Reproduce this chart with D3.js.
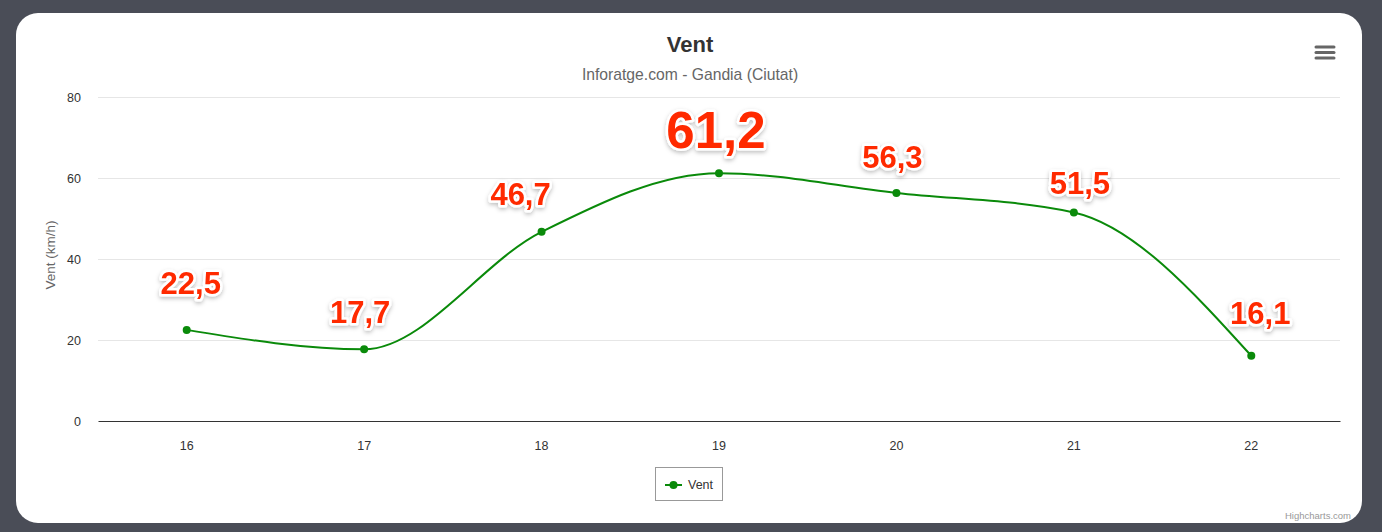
<!DOCTYPE html>
<html>
<head>
<meta charset="utf-8">
<script src="https://cdn.jsdelivr.net/npm/d3@7"></script>
<style>
  html, body { margin: 0; padding: 0; background: #4a4d57; }
  svg { display: block; font-family: "Liberation Sans", Arial, Helvetica, sans-serif; }
  .grid line { stroke: #e6e6e6; }
  .grid path { display: none; }
  .axis text { fill: #333; font-size: 12.5px; }
  .dlabel {
    fill: #ff2a00;
    font-weight: bold;
    stroke: #fff;
    stroke-width: 5px;
    stroke-linejoin: round;
    paint-order: stroke;
  }
</style>
</head>
<body>
<svg id="chart"></svg>
<script>
// chart data
const days = ['16', '17', '18', '19', '20', '21', '22'];
const windValues = [22.5, 17.7, 46.7, 61.2, 56.3, 51.5, 16.1];
const yTicks = [0, 20, 40, 60, 80];

// data label styling (font size and nudges, as placed in the original)
const labelSizes = [31, 31, 31, 51, 31, 31, 31];
const labelDx = [4, -4, -21, -3, -4, 6, 9];
const labelDy = [-36, -26, -27, -25, -25, -18, -32];

const config = {
    width: 1382,
    height: 532,
    margin: { top: 97, right: 42, bottom: 111, left: 98 }
};

const svg = d3.select('#chart')
    .attr('width', config.width)
    .attr('height', config.height);

// drop shadow for the data labels
const defs = svg.append('defs');
const shadow = defs.append('filter').attr('id', 'shadow')
    .attr('x', '-20%').attr('y', '-20%').attr('width', '140%').attr('height', '160%');
shadow.append('feDropShadow')
    .attr('dx', 0).attr('dy', 2).attr('stdDeviation', 2)
    .attr('flood-color', '#000').attr('flood-opacity', 0.25);

// white card
svg.append('rect')
    .attr('x', 16).attr('y', 13)
    .attr('width', 1346).attr('height', 510)
    .attr('rx', 22).attr('ry', 22)
    .attr('fill', '#fff');

const width = config.width - config.margin.left - config.margin.right;
const height = config.height - config.margin.top - config.margin.bottom;

const chart = svg.append('g')
    .attr('transform', `translate(${config.margin.left},${config.margin.top})`);

const xScale = d3.scaleBand()
    .domain(days)
    .range([0, width]);

const yScale = d3.scaleLinear()
    .domain([0, 80])
    .range([height, 0]);

// gridlines
chart.append('g')
    .attr('class', 'grid')
    .call(d3.axisLeft(yScale).tickValues(yTicks.slice(1)).tickSize(-width).tickFormat(''));

// y-axis labels
const yAxisG = chart.append('g')
    .attr('class', 'axis')
    .call(d3.axisLeft(yScale).tickValues(yTicks).tickSize(0).tickPadding(17));
yAxisG.select('.domain').remove();

// x-axis
const xAxisG = chart.append('g')
    .attr('class', 'axis')
    .attr('transform', `translate(0,${height})`)
    .call(d3.axisBottom(xScale).tickSize(0).tickPadding(20).tickSizeOuter(0));
xAxisG.select('.domain').attr('stroke', '#333').attr('stroke-width', 1);

// y-axis title
svg.append('text')
    .attr('transform', 'rotate(-90)')
    .attr('x', -(config.margin.top + height / 2) + 4)
    .attr('y', 55)
    .attr('text-anchor', 'middle')
    .attr('fill', '#666')
    .attr('font-size', 13.5)
    .text('Vent (km/h)');

// title and subtitle
svg.append('text')
    .attr('x', 690).attr('y', 52)
    .attr('text-anchor', 'middle')
    .attr('fill', '#333')
    .attr('font-size', 22)
    .attr('font-weight', 'bold')
    .text('Vent');

svg.append('text')
    .attr('x', 690).attr('y', 80)
    .attr('text-anchor', 'middle')
    .attr('fill', '#666')
    .attr('font-size', 15.7)
    .text('Inforatge.com - Gandia (Ciutat)');

// series
const data = days.map((d, i) => ({
    day: d, value: windValues[i],
    size: labelSizes[i], dx: labelDx[i], dy: labelDy[i]
}));
const xPos = d => xScale(d.day) + xScale.bandwidth() / 2;

const line = d3.line()
    .x(xPos)
    .y(d => yScale(d.value))
    .curve(d3.curveMonotoneX);

chart.append('path')
    .datum(data)
    .attr('fill', 'none')
    .attr('stroke', '#0a8a0a')
    .attr('stroke-width', 2)
    .attr('d', line);

chart.selectAll('.point')
    .data(data)
    .join('circle')
    .attr('class', 'point')
    .attr('r', 4)
    .attr('cx', xPos)
    .attr('cy', d => yScale(d.value))
    .attr('fill', '#0a8a0a');

// data labels
chart.selectAll('.dlabel')
    .data(data)
    .join('text')
    .attr('class', 'dlabel')
    .attr('x', d => xPos(d) + d.dx)
    .attr('y', d => yScale(d.value) + d.dy)
    .attr('text-anchor', 'middle')
    .attr('font-size', d => d.size)
    .attr('filter', 'url(#shadow)')
    .text(d => d3.format('.1f')(d.value).replace('.', ','));

// legend
const legend = svg.append('g').attr('transform', 'translate(655,467)');
legend.append('rect')
    .attr('x', 0.5).attr('y', 0.5)
    .attr('width', 67).attr('height', 33)
    .attr('fill', '#fff')
    .attr('stroke', '#999');
legend.append('line')
    .attr('x1', 10).attr('x2', 27)
    .attr('y1', 18).attr('y2', 18)
    .attr('stroke', '#0a8a0a').attr('stroke-width', 2);
legend.append('circle')
    .attr('cx', 18.5).attr('cy', 18).attr('r', 4)
    .attr('fill', '#0a8a0a');
legend.append('text')
    .attr('x', 33).attr('y', 22)
    .attr('fill', '#333')
    .attr('font-size', 12.5)
    .text('Vent');

// menu icon
svg.append('g')
    .selectAll('line')
    .data([0, 1, 2])
    .join('line')
    .attr('x1', 1316).attr('x2', 1334)
    .attr('y1', d => 47 + d * 5.5).attr('y2', d => 47 + d * 5.5)
    .attr('stroke', '#666')
    .attr('stroke-width', 3)
    .attr('stroke-linecap', 'round');

// credits
svg.append('text')
    .attr('x', 1351).attr('y', 519)
    .attr('text-anchor', 'end')
    .attr('fill', '#999')
    .attr('font-size', 9.5)
    .text('Highcharts.com');
</script>
</body>
</html>
